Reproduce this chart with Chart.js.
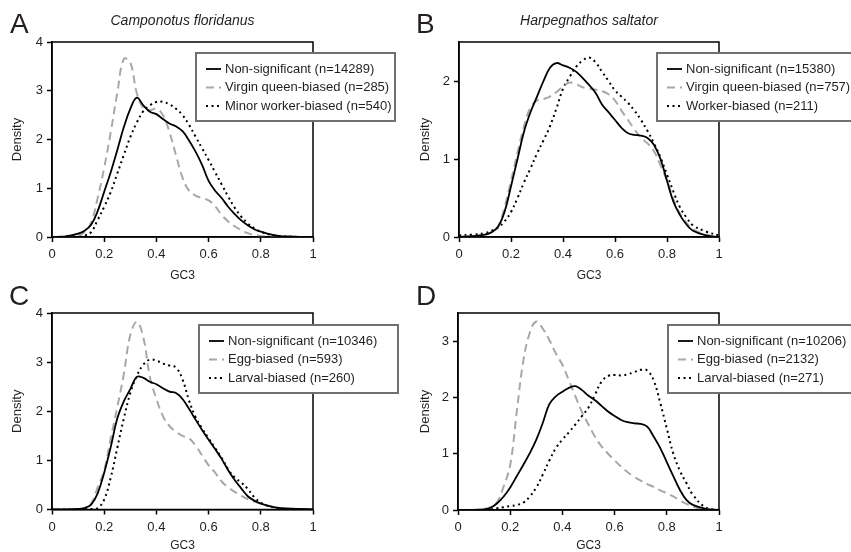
<!DOCTYPE html>
<html>
<head>
<meta charset="utf-8">
<script src="https://cdn.jsdelivr.net/npm/chart.js@4.4.1/dist/chart.umd.min.js"></script>
<style>
  body { margin: 0; background: #fff; }
  #wrap { position: relative; width: 851px; height: 552px; overflow: hidden; }
  canvas { position: absolute; }
</style>
</head>
<body>
<div id="wrap">
  <canvas id="chartA" width="406" height="285" style="left:0;top:0"></canvas>
  <canvas id="chartB" width="445" height="285" style="left:406px;top:0"></canvas>
  <canvas id="chartC" width="406" height="272" style="left:0;top:280px"></canvas>
  <canvas id="chartD" width="445" height="272" style="left:406px;top:280px"></canvas>
</div>
<script>
  // GC3 grid shared by every curve
  const gc3 = [0, 0.05, 0.1, 0.125, 0.15, 0.175, 0.2, 0.225, 0.25, 0.275, 0.3, 0.325, 0.35, 0.375, 0.4, 0.425, 0.45, 0.475, 0.5,
    0.525, 0.55, 0.575, 0.6, 0.625, 0.65, 0.675, 0.7, 0.725, 0.75, 0.775, 0.8, 0.825, 0.85, 0.875, 0.9, 0.95, 1];

  // A - Camponotus floridanus
  const aLabels = ['Non-significant (n=14289)', 'Virgin queen-biased (n=285)', 'Minor worker-biased (n=540)'];
  const aNonSig = [0, 0.01, 0.07, 0.13, 0.25, 0.53, 0.93, 1.33, 1.78, 2.25, 2.63, 2.86, 2.7, 2.57, 2.52, 2.42, 2.33, 2.27, 2.17,
    1.98, 1.75, 1.48, 1.15, 0.95, 0.8, 0.62, 0.47, 0.34, 0.24, 0.16, 0.11, 0.07, 0.04, 0.02, 0.01, 0, 0];
  const aQueen = [0, 0, 0.03, 0.1, 0.3, 0.8, 1.42, 2.15, 2.95, 3.65, 3.58, 2.95, 2.65, 2.6, 2.63, 2.5, 2.15, 1.68, 1.22,
    0.95, 0.85, 0.8, 0.75, 0.63, 0.45, 0.32, 0.22, 0.14, 0.08, 0.04, 0.02, 0.01, 0, 0, 0, 0, 0];
  const aMinorWorker = [0, 0, 0.01, 0.03, 0.1, 0.35, 0.62, 0.92, 1.3, 1.68, 2.05, 2.35, 2.58, 2.7, 2.77, 2.77, 2.72, 2.63, 2.5,
    2.3, 2.06, 1.82, 1.58, 1.33, 1.08, 0.83, 0.6, 0.42, 0.28, 0.18, 0.11, 0.06, 0.03, 0.015, 0.01, 0, 0];

  // B - Harpegnathos saltator
  const bLabels = ['Non-significant (n=15380)', 'Virgin queen-biased (n=757)', 'Worker-biased (n=211)'];
  const bNonSig = [0, 0.01, 0.03, 0.06, 0.13, 0.32, 0.65, 1.0, 1.35, 1.6, 1.8, 2.0, 2.17, 2.23, 2.2, 2.17, 2.12, 2.04, 1.95,
    1.85, 1.7, 1.6, 1.5, 1.4, 1.33, 1.31, 1.3, 1.27, 1.18, 1.0, 0.72, 0.45, 0.28, 0.16, 0.08, 0.02, 0];
  const bQueen = [0, 0.01, 0.03, 0.06, 0.13, 0.38, 0.72, 1.08, 1.42, 1.66, 1.75, 1.77, 1.8, 1.86, 1.93, 1.98, 1.96, 1.92, 1.9,
    1.89, 1.87, 1.83, 1.75, 1.62, 1.5, 1.38, 1.27, 1.2, 1.1, 0.92, 0.72, 0.48, 0.3, 0.18, 0.1, 0.03, 0.01];
  const bWorker = [0.02, 0.03, 0.05, 0.08, 0.12, 0.2, 0.32, 0.5, 0.7, 0.88, 1.07, 1.24, 1.42, 1.65, 1.9, 2.05, 2.18, 2.26, 2.3,
    2.24, 2.12, 2.0, 1.88, 1.8, 1.72, 1.62, 1.5, 1.36, 1.2, 1.02, 0.8, 0.58, 0.38, 0.25, 0.15, 0.07, 0.02];

  // C
  const cLabels = ['Non-significant (n=10346)', 'Egg-biased (n=593)', 'Larval-biased (n=260)'];
  const cNonSig = [0, 0, 0.01, 0.03, 0.1, 0.33, 0.75, 1.27, 1.85, 2.2, 2.45, 2.7, 2.68, 2.6, 2.55, 2.47, 2.4, 2.37, 2.25,
    2.05, 1.83, 1.62, 1.42, 1.23, 1.03, 0.8, 0.6, 0.43, 0.27, 0.18, 0.12, 0.08, 0.05, 0.03, 0.02, 0.01, 0];
  const cEgg = [0, 0, 0.01, 0.03, 0.12, 0.45, 0.8, 1.45, 2.08, 2.75, 3.55, 3.82, 3.5, 2.7, 2.25, 1.9, 1.7, 1.58, 1.5,
    1.45, 1.3, 1.1, 0.9, 0.75, 0.57, 0.45, 0.36, 0.28, 0.21, 0.16, 0.12, 0.08, 0.05, 0.03, 0.02, 0.01, 0];
  const cLarval = [0, 0, 0, 0.01, 0.01, 0.03, 0.2, 0.65, 1.25, 1.85, 2.37, 2.72, 2.95, 3.05, 3.03, 2.97, 2.93, 2.89, 2.65,
    2.22, 1.88, 1.65, 1.45, 1.25, 1.05, 0.82, 0.65, 0.55, 0.42, 0.25, 0.14, 0.08, 0.04, 0.02, 0.01, 0, 0];

  // D
  const dLabels = ['Non-significant (n=10206)', 'Egg-biased (n=2132)', 'Larval-biased (n=271)'];
  const dNonSig = [0, 0, 0.01, 0.04, 0.12, 0.24, 0.4, 0.6, 0.8, 1.01, 1.25, 1.55, 1.88, 2.02, 2.1, 2.17, 2.2, 2.13, 2.03,
    1.95, 1.85, 1.75, 1.67, 1.6, 1.56, 1.54, 1.53, 1.48, 1.3, 1.1, 0.85, 0.6, 0.36, 0.18, 0.09, 0.02, 0];
  const dEgg = [0, 0, 0.02, 0.05, 0.14, 0.42, 0.8, 1.74, 2.64, 3.15, 3.35, 3.22, 3.02, 2.78, 2.58, 2.3, 2.02, 1.74, 1.52,
    1.3, 1.13, 1.0, 0.88, 0.77, 0.67, 0.59, 0.52, 0.46, 0.41, 0.35, 0.3, 0.24, 0.17, 0.11, 0.06, 0.01, 0];
  const dLarval = [0, 0, 0, 0.01, 0.03, 0.05, 0.07, 0.09, 0.13, 0.24, 0.4, 0.63, 0.88, 1.1, 1.25, 1.38, 1.52, 1.67, 1.82,
    2.05, 2.28, 2.38, 2.4, 2.39, 2.41, 2.45, 2.49, 2.48, 2.3, 1.9, 1.45, 1.0, 0.7, 0.48, 0.27, 0.04, 0];

  const ink = '#231f20';
  const fontFamily = '"Liberation Sans", Arial, sans-serif';
  Chart.defaults.font.family = fontFamily;
  Chart.defaults.color = ink;

  // solid / grey dashed / dotted
  const lineStyles = [
    { borderColor: '#000', borderWidth: 1.8 },
    { borderColor: '#a8a8a8', borderWidth: 2, borderDash: [8, 5] },
    { borderColor: '#000', borderWidth: 2, borderDash: [2, 3.5] }
  ];

  // frame, panel letter, species name and the legend box
  const panelDecor = {
    id: 'panelDecor',
    afterDraw(chart, args, o) {
      const { ctx, chartArea: a } = chart;
      ctx.save();
      ctx.strokeStyle = '#000';
      ctx.lineWidth = 1.5;
      ctx.strokeRect(a.left, a.top, a.right - a.left, a.bottom - a.top);

      ctx.fillStyle = ink;
      ctx.textBaseline = 'alphabetic';
      ctx.font = '28px ' + fontFamily;
      ctx.fillText(o.letter, o.letterX, o.letterY);
      if (o.species) {
        ctx.font = 'italic 14px ' + fontFamily;
        ctx.textAlign = 'center';
        ctx.fillText(o.species, (a.left + a.right) / 2, 25);
        ctx.textAlign = 'left';
      }

      const [bx, by] = o.box;
      ctx.fillStyle = '#fff';
      ctx.fillRect(bx, by, 199, 68);
      ctx.strokeStyle = '#707070';
      ctx.lineWidth = 2;
      ctx.strokeRect(bx, by, 199, 68);
      ctx.font = '13px ' + fontFamily;
      ctx.textBaseline = 'middle';
      chart.data.datasets.forEach((ds, i) => {
        const y = by + 16 + i * 18.5;
        ctx.beginPath();
        ctx.setLineDash(ds.borderDash || []);
        ctx.strokeStyle = ds.borderColor;
        ctx.lineWidth = ds.borderWidth;
        ctx.moveTo(bx + 10, y);
        ctx.lineTo(bx + 25, y);
        ctx.stroke();
        ctx.setLineDash([]);
        ctx.fillStyle = ink;
        ctx.fillText(ds.label, bx + 29, y);
      });
      ctx.restore();
    }
  };

  const tickFmt = v => String(+Number(v).toFixed(1));

  function panel(id, p) {
    return new Chart(document.getElementById(id), {
      type: 'line',
      data: {
        datasets: p.series.map((s, i) => Object.assign({
          label: p.labels[i],
          data: gc3.map((x, j) => ({ x: x, y: s[j] })),
          fill: false
        }, lineStyles[i]))
      },
      plugins: [panelDecor],
      options: {
        responsive: false,
        animation: false,
        events: [],
        layout: { padding: { left: 0, top: p.top, right: p.right, bottom: 0 } },
        elements: { point: { radius: 0 }, line: { tension: 0.4, borderCapStyle: 'butt' } },
        plugins: {
          legend: { display: false },
          tooltip: { enabled: false },
          panelDecor: p.decor
        },
        scales: {
          x: {
            type: 'linear', min: 0, max: 1,
            ticks: { stepSize: 0.2, padding: 5, callback: tickFmt, font: { size: 13 }, maxRotation: 0 },
            grid: { drawOnChartArea: false, tickLength: 5, tickWidth: 1.5, tickColor: '#000' },
            border: { color: '#000', width: 1.5 },
            title: { display: true, text: 'GC3', font: { size: 12, lineHeight: 1 }, padding: { top: 0, bottom: p.gcPad } },
            afterFit: s => { s.height = p.xHeight; }
          },
          y: {
            min: 0, max: p.yMax,
            ticks: { stepSize: 1, includeBounds: false, padding: 4, callback: tickFmt, font: { size: 13 } },
            grid: { drawOnChartArea: false, tickLength: 5, tickWidth: 1.5, tickColor: '#000' },
            border: { color: '#000', width: 1.5 },
            title: { display: true, text: 'Density', font: { size: 13, lineHeight: 1 }, padding: { top: p.densPad, bottom: 0 } },
            afterFit: s => { s.width = p.yWidth; }
          }
        }
      }
    });
  }

  panel('chartA', {
    series: [aNonSig, aQueen, aMinorWorker], labels: aLabels, yMax: 4,
    top: 42, right: 93, yWidth: 52, xHeight: 48, gcPad: 3, densPad: 11,
    decor: { letter: 'A', letterX: 10, letterY: 33, species: 'Camponotus floridanus', box: [196, 53] }
  });
  panel('chartB', {
    series: [bNonSig, bQueen, bWorker], labels: bLabels, yMax: 2.5,
    top: 42, right: 132, yWidth: 53, xHeight: 48, gcPad: 3, densPad: 12.5,
    decor: { letter: 'B', letterX: 10, letterY: 33, species: 'Harpegnathos saltator', box: [251, 53] }
  });
  panel('chartC', {
    series: [cNonSig, cEgg, cLarval], labels: cLabels, yMax: 4,
    top: 33, right: 93, yWidth: 52, xHeight: 42.5, gcPad: 0, densPad: 11,
    decor: { letter: 'C', letterX: 9, letterY: 25, species: null, box: [199, 45] }
  });
  panel('chartD', {
    series: [dNonSig, dEgg, dLarval], labels: dLabels, yMax: 3.5,
    top: 33, right: 132, yWidth: 52, xHeight: 42, gcPad: 0, densPad: 12.5,
    decor: { letter: 'D', letterX: 10, letterY: 25, species: null, box: [262, 45] }
  });
</script>
</body>
</html>
